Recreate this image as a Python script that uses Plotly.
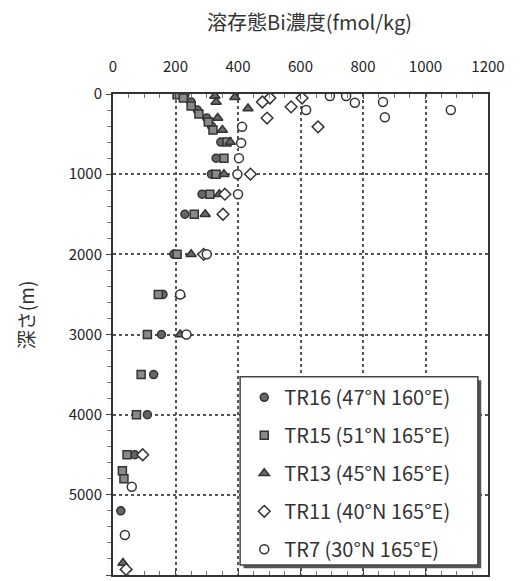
import plotly.graph_objects as go

# ---- data ----
tr16_depth = [10, 100, 200, 300, 400, 600, 800, 1000, 1250, 1500, 2000, 2500, 3000, 3500, 4000, 4500, 5200]
tr16_conc = [230, 250, 270, 300, 315, 345, 330, 315, 285, 230, 195, 160, 155, 130, 110, 70, 25]

tr15_depth = [10, 50, 150, 250, 350, 450, 600, 800, 1000, 1250, 1500, 2000, 2500, 3000, 3500, 4000, 4500, 4700, 4800]
tr15_conc = [205, 225, 250, 275, 305, 320, 365, 355, 330, 310, 260, 205, 145, 110, 90, 75, 45, 30, 35]

tr13_depth = [25, 40, 100, 180, 300, 450, 600, 1000, 1250, 1500, 2000, 2500, 3000, 5850]
tr13_conc = [326, 390, 330, 432, 335, 350, 375, 355, 340, 295, 250, 215, 215, 32]

tr11_depth = [50, 100, 160, 300, 410, 50, 1000, 1250, 1500, 2000, 4500, 5930]
tr11_conc = [502, 478, 570, 493, 656, 605, 440, 358, 352, 290, 95, 42]

tr7_depth = [25, 25, 110, 200, 100, 290, 200, 410, 610, 800, 1000, 1250, 2000, 2500, 3000, 4900, 5500]
tr7_conc = [694, 746, 774, 618, 864, 870, 1081, 413, 410, 403, 398, 400, 300, 215, 235, 60, 38]

series_names = ["TR16 (47°N 160°E)", "TR15 (51°N 165°E)", "TR13 (45°N 165°E)",
                "TR11 (40°N 165°E)", "TR7 (30°N 165°E)"]
x_ticks = [0, 200, 400, 600, 800, 1000, 1200]
y_ticks = [0, 1000, 2000, 3000, 4000, 5000, 6000]

FONT = "Noto Sans CJK JP, Liberation Sans, sans-serif"

series = [
    (tr16_conc, tr16_depth, "circle", "#666666", 8),
    (tr15_conc, tr15_depth, "square", "#8a8a8a", 8),
    (tr13_conc, tr13_depth, "triangle-up", "#6a6a6a", 9),
    (tr11_conc, tr11_depth, "diamond", "white", 9),
    (tr7_conc, tr7_depth, "circle", "white", 9),
]

fig = go.Figure()
for i, ((xs, ys, sym, fill, sz), name) in enumerate(zip(series, series_names)):
    fig.add_trace(go.Scatter(
        x=xs, y=ys, mode="markers", name=name, legendgroup=f"g{i}",
        marker=dict(symbol=sym, size=sz, color=fill, line=dict(color="#333333", width=1.5)),
    ))

# legend frame with shadow (drawn as shapes)
x0p, x1p, y0p, y1p = 0.339, 0.973, 0.021, 0.412
fig.add_shape(type="rect", xref="paper", yref="paper", x0=x0p + 0.009, x1=x1p + 0.009,
              y0=y0p - 0.007, y1=y1p - 0.007, fillcolor="#555555", line=dict(width=0), layer="above")
fig.add_shape(type="rect", xref="paper", yref="paper", x0=x0p, x1=x1p, y0=y0p, y1=y1p,
              fillcolor="white", line=dict(color="#444444", width=1.5), layer="above")

fig.add_annotation(text="溶存態Bi濃度(fmol/kg)", xref="paper", yref="paper", x=0.525, y=1.151,
                   xanchor="center", yanchor="middle",
                   showarrow=False, font=dict(family=FONT, size=20, color="#333333"))
fig.add_annotation(text="深さ(m)", xref="paper", yref="paper", x=-0.235, y=0.54, textangle=-90,
                   xanchor="center", yanchor="middle",
                   showarrow=False, font=dict(family=FONT, size=19, color="#333333"))

fig.update_xaxes(
    range=[0, 1200], side="top", tickmode="array", tickvals=x_ticks,
    ticks="inside", ticklen=5, tickcolor="#444", showline=True, mirror="ticks",
    linecolor="#333333", linewidth=2, showgrid=True, gridcolor="#555555", griddash="dot", gridwidth=1.5,
    minor=dict(dtick=50, ticks="inside", ticklen=4, tickcolor="#777"),
    tickfont=dict(family=FONT, size=15, color="#222"), ticklabelstandoff=14, zeroline=False,
)
fig.update_yaxes(
    range=[6000, 0], tickmode="array", tickvals=y_ticks,
    ticks="outside", ticklen=5, tickcolor="#444", showline=True, mirror=True,
    linecolor="#333333", linewidth=2, showgrid=True, gridcolor="#555555", griddash="dot", gridwidth=1.5,
    minor=dict(dtick=200, ticks="outside", ticklen=4, tickcolor="#777"),
    tickfont=dict(family=FONT, size=15, color="#222"), ticklabelstandoff=1, zeroline=False,
)

fig.update_layout(
    width=522, height=581,
    margin=dict(l=113, r=34, t=94, b=4),
    paper_bgcolor="white", plot_bgcolor="white",
    showlegend=True,
    legend=dict(x=0.35, y=0.41, xanchor="left", yanchor="top", bgcolor="rgba(0,0,0,0)",
                borderwidth=0, tracegroupgap=9,
                font=dict(family=FONT, size=20, color="#333333")),
)

fig.write_html("out.html", config={"displayModeBar": False},
               post_script="document.body.style.margin='0';")
